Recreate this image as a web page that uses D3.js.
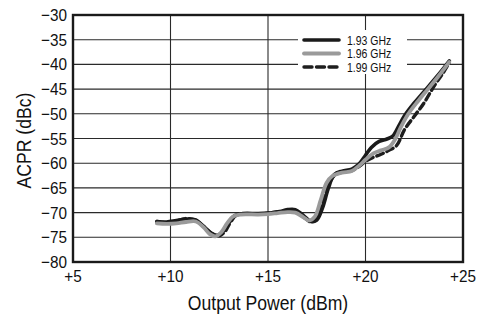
<!DOCTYPE html>
<head>
  <meta charset="utf-8">
  <script src="https://d3js.org/d3.v7.min.js"></script>
  <style>
    body { margin:0; background:#fff; }
    svg text { font-family: "Liberation Sans", Arial, sans-serif; fill:#111; }
  </style>
</head>
<body>
  <svg id="chart" width="484" height="320"></svg>
  <script>
    // values
    var xTicks = [5, 10, 15, 20, 25];
    var xTickLabels = ["+5", "+10", "+15", "+20", "+25"];
    var yTicks = [-30, -35, -40, -45, -50, -55, -60, -65, -70, -75, -80];
    var yTickLabels = ["\u221230", "\u221235", "\u221240", "\u221245", "\u221250", "\u221255", "\u221260", "\u221265", "\u221270", "\u221275", "\u221280"];
    var seriesNames = ["1.93 GHz", "1.96 GHz", "1.99 GHz"];

    var power193 = [9.3, 9.8, 10.3, 10.8, 11.3, 11.7, 12.1, 12.4, 12.7, 13.0, 13.3, 13.7, 14.5, 15.0, 15.5, 16.0, 16.4, 16.8, 17.2, 17.5, 17.8, 18.1, 18.4, 18.8, 19.3, 19.7, 20.0, 20.3, 20.7, 21.1, 21.4, 21.7, 22.0, 22.5, 23.0, 23.5, 24.0, 24.3];
    var acpr193  = [-71.8, -71.9, -71.6, -71.3, -71.5, -72.8, -74.2, -74.6, -73.8, -72.0, -70.6, -70.2, -70.2, -70.1, -69.9, -69.4, -69.4, -70.5, -71.8, -71.5, -69.0, -65.0, -62.3, -61.6, -61.2, -60.0, -58.4, -56.8, -55.6, -55.1, -54.5, -52.5, -50.4, -47.8, -45.5, -43.2, -40.8, -39.3];

    var power196 = [9.3, 9.8, 10.3, 10.8, 11.3, 11.7, 12.0, 12.3, 12.6, 12.9, 13.2, 13.6, 14.5, 15.0, 15.5, 16.0, 16.4, 16.8, 17.1, 17.4, 17.7, 18.0, 18.3, 18.8, 19.3, 19.7, 20.0, 20.4, 20.8, 21.2, 21.5, 21.8, 22.2, 22.7, 23.2, 23.7, 24.3];
    var acpr196  = [-72.2, -72.3, -72.2, -71.9, -71.8, -73.0, -74.3, -74.8, -74.0, -72.2, -70.8, -70.4, -70.4, -70.3, -70.1, -69.9, -70.0, -70.9, -71.6, -70.8, -67.5, -64.0, -62.6, -61.9, -61.6, -60.4, -59.3, -58.0, -57.4, -56.8, -55.3, -52.8, -50.0, -47.4, -45.0, -42.6, -39.5];

    var power199 = [9.3, 9.8, 10.3, 10.8, 11.3, 11.7, 12.1, 12.5, 12.8, 13.1, 13.4, 14.5, 15.0, 15.5, 16.0, 16.4, 16.8, 17.2, 17.5, 17.8, 18.1, 18.4, 18.8, 19.3, 19.7, 20.0, 20.4, 20.8, 21.2, 21.6, 22.0, 22.5, 23.0, 23.5, 24.0, 24.3];
    var acpr199  = [-71.8, -72.0, -71.7, -71.2, -71.6, -72.8, -74.2, -74.7, -73.8, -71.8, -70.5, -70.3, -70.1, -69.8, -69.6, -69.8, -70.8, -71.9, -71.2, -68.0, -64.5, -62.5, -61.8, -61.5, -60.6, -59.6, -58.8, -58.2, -57.4, -56.4, -53.2, -50.5, -47.8, -44.5, -41.6, -39.6];

    var plotL = 73, plotR = 463, plotT = 15, plotB = 262;
    var svg = d3.select("#chart");

    var x = d3.scaleLinear().domain([5, 25]).range([plotL, plotR]);
    var y = d3.scaleLinear().domain([-80, -30]).range([plotB, plotT]);

    // narrow text (the original uses a condensed face)
    function label(g, tx, ty, str, size, anchor, sx, rot) {
      return g.append("text")
        .attr("transform", "translate(" + tx + "," + ty + ")" + (rot ? " rotate(" + rot + ")" : "") + " scale(" + sx + ",1)")
        .attr("text-anchor", anchor)
        .style("font-size", size + "px")
        .text(str);
    }

    // grid
    var grid = svg.append("g");
    grid.selectAll(".vg").data(xTicks.slice(1, -1)).enter().append("line")
      .attr("x1", function(d){ return x(d); }).attr("x2", function(d){ return x(d); })
      .attr("y1", plotT).attr("y2", plotB)
      .attr("stroke", "#2a2a2a").attr("stroke-width", 1.1);
    grid.selectAll(".hg").data(yTicks.slice(1, -1)).enter().append("line")
      .attr("x1", plotL).attr("x2", plotR)
      .attr("y1", function(d){ return y(d); }).attr("y2", function(d){ return y(d); })
      .attr("stroke", "#2a2a2a").attr("stroke-width", 1.1);

    // legend box blanks the grid behind it
    svg.append("rect").attr("x", 298).attr("y", 30).attr("width", 109).attr("height", 44).attr("fill", "#fff");

    var line = d3.line()
      .x(function(d){ return x(d[0]); })
      .y(function(d){ return y(d[1]); })
      .curve(d3.curveCatmullRom.alpha(0.5));

    var series = [
      { name: seriesNames[2], pts: d3.zip(power199, acpr199), color: "#1e1e1e", width: 3.4, dash: "7,4" },
      { name: seriesNames[0], pts: d3.zip(power193, acpr193), color: "#1a1a1a", width: 3.6, dash: null },
      { name: seriesNames[1], pts: d3.zip(power196, acpr196), color: "#9a9a9a", width: 3.8, dash: null }
    ];

    svg.selectAll(".curve").data(series).enter().append("path")
      .attr("d", function(d){ return line(d.pts); })
      .attr("fill", "none")
      .attr("stroke", function(d){ return d.color; })
      .attr("stroke-width", function(d){ return d.width; })
      .attr("stroke-dasharray", function(d){ return d.dash; })
      .attr("stroke-linecap", "round")
      .attr("stroke-linejoin", "round");

    // legend
    var legendOrder = [series[1], series[2], series[0]];
    var leg = svg.append("g").attr("transform", "translate(304,40)");
    legendOrder.forEach(function(s, i) {
      leg.append("line")
        .attr("x1", 0).attr("x2", 35).attr("y1", i * 13.5).attr("y2", i * 13.5)
        .attr("stroke", s.color).attr("stroke-width", s.width)
        .attr("stroke-dasharray", s.dash ? "8,4.5" : null)
        .attr("stroke-linecap", "round");
      label(leg, 43, i * 13.5 + 4.5, s.name, 12.5, "start", 0.84);
    });

    // frame
    svg.append("rect").attr("x", plotL).attr("y", plotT).attr("width", plotR - plotL).attr("height", plotB - plotT)
      .attr("fill", "none").attr("stroke", "#1a1a1a").attr("stroke-width", 2.4);

    // tick labels
    yTicks.forEach(function(d, i) {
      label(svg, 67, y(d) + 6, yTickLabels[i], 17, "end", 0.9);
    });
    xTicks.forEach(function(d, i) {
      label(svg, x(d), 282, xTickLabels[i], 17, "middle", 0.9);
    });

    // axis titles
    label(svg, (plotL + plotR) / 2, 310, "Output Power (dBm)", 20, "middle", 0.88);
    label(svg, 31, (plotT + plotB) / 2 + 2, "ACPR (dBc)", 20, "middle", 0.88, -90);
  </script>
</body>
